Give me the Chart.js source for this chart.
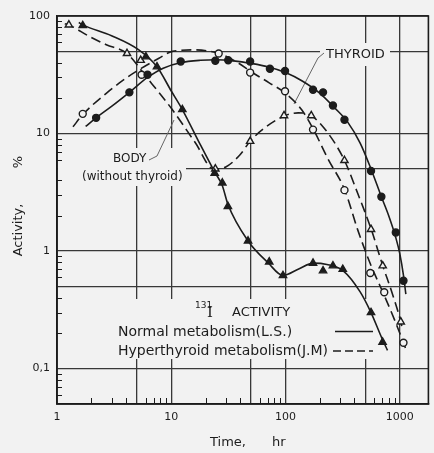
<!DOCTYPE html>
<html><head><meta charset="utf-8">
<script src="https://cdn.jsdelivr.net/npm/chart.js@4/dist/chart.umd.min.js"></script>
<style>html,body{margin:0;padding:0;background:#f2f2f2;}canvas{display:block;}</style>
</head><body>
<canvas id="c" width="434" height="453"></canvas>
<script>
// ---- data ----
// markers: [time hr, activity %]
const thyroidNormalPts = [[2.2,13.6],[4.3,22.4],[6.2,31.6],[12.1,41],[24.3,41.6],[31.5,42],[49,41],[73,35.6],[99,34],[174,23.6],[213,22.4],[260,17.3],[328,13.1],[560,4.8],[690,2.9],[923,1.44],[1077,0.56]];
const thyroidHyperPts = [[1.68,14.7],[5.5,31.6],[26,48],[49,33],[99,22.9],[174,10.8],[328,3.3],[552,0.65],[731,0.447],[1077,0.166]];
const bodyNormalPts = [[1.68,83],[6,45],[7.5,37],[12.5,16],[24,4.6],[28,3.8],[31.3,2.4],[47,1.22],[72,0.81],[95,0.62],[174,0.79],[213,0.68],[260,0.75],[317,0.7],[560,0.3],[707,0.168]];
const bodyHyperPts = [[1.27,84],[4.1,48],[5.4,42],[24.3,5],[49,8.6],[97,14.2],[168,14.2],[328,5.9],[560,1.53],[709,0.75],[1020,0.25]];
// fitted curves as drawn
const thyroidNormalCurve = [[1.78,11.5],[2.2,13.6],[3,17],[4.3,22.4],[6.2,30],[8.5,36],[12,40],[18,42],[25,42.5],[35,41.5],[50,39.5],[70,37],[100,33],[140,28],[200,22],[270,16.5],[350,12.5],[450,8.3],[560,5],[690,2.9],[800,2],[923,1.3],[1000,0.95],[1077,0.62],[1130,0.43]];
const thyroidHyperCurve = [[1.38,11.4],[1.68,14.5],[2.7,22],[4.1,30],[5.5,36],[7.8,43.7],[10.2,50],[16,51.5],[26,48],[38.7,39.8],[49,34],[72,27],[100,22],[138,16],[174,11],[235,6.1],[330,3.3],[430,1.5],[552,0.78],[731,0.42],[900,0.26],[1077,0.166],[1120,0.15]];
const bodyNormalCurve = [[1.55,88],[1.68,84],[3,68],[5.2,51.5],[7.5,37],[10,23],[12.5,16],[18,8],[24,4.7],[28,3.6],[31.3,2.5],[47,1.22],[70,0.8],[95,0.62],[129,0.7],[175,0.79],[230,0.77],[320,0.68],[450,0.45],[560,0.3],[700,0.18],[781,0.143]];
const bodyHyperCurve = [[1.17,86],[1.27,84],[1.92,67],[2.7,57],[4.1,48],[6,30.6],[10.2,16],[16.3,8.3],[23.5,5],[30,5.2],[40,6.6],[49,8.6],[66,11.2],[99,14.2],[129,15],[168,14.2],[235,10.1],[328,5.9],[428,3.1],[560,1.55],[710,0.75],[850,0.45],[1020,0.25],[1060,0.21]];
// axes
const xGridValues = [1,5,10,50,100,500,1000];
const xTickValues = [1,10,100,1000];
const xTickLabels = ['1','10','100','1000'];
const xMinorValues = [2,3,4,6,7,8,9,20,30,40,60,70,80,90,200,300,400,600,700,800,900];
const yGridValues = [0.1,0.5,1,5,10,50,100];
const yTickValues = [0.1,1,10,100];
const yTickLabels = ['0,1','1','10','100'];
const yMinorValues = [0.06,0.07,0.08,0.09,0.2,0.3,0.4,0.6,0.7,0.8,0.9,2,3,4,6,7,8,9,20,30,40,60,70,80,90];

const BG = '#f2f2f2', INK = '#1c1c1c', FONT = "'DejaVu Sans', sans-serif";
const toXY = a => a.map(p => ({x:p[0], y:p[1]}));

function curve(arr, dashed){
  return {data:toXY(arr), showLine:true, pointRadius:0, borderColor:INK, borderWidth:1.6,
    borderDash: dashed ? [10,5] : [], cubicInterpolationMode:'monotone', fill:false};
}
function marks(arr, style, filled){
  return {data:toXY(arr), showLine:false, pointStyle:style, pointRadius: style==='triangle'?4.2:3.5,
    pointBorderWidth:1.4, pointBorderColor:INK, pointBackgroundColor: filled?INK:BG};
}

const annot = {
  id:'annot',
  beforeDatasetsDraw(chart){
    const {ctx, chartArea:a, scales:{x,y}} = chart;
    ctx.save();
    // label backgrounds hiding grid lines
    ctx.fillStyle = BG;
    ctx.fillRect(320,43,70,23);
    ctx.fillRect(a.left+1,148,128,38);
    ctx.fillRect(115,299,262,60);
    // frame
    ctx.strokeStyle = INK; ctx.lineWidth = 1.6;
    ctx.strokeRect(a.left, a.top, a.right-a.left, a.bottom-a.top);
    // minor ticks (inside)
    ctx.lineWidth = 1;
    yMinorValues.forEach(v=>{const py=Math.round(y.getPixelForValue(v))+0.5; ctx.beginPath(); ctx.moveTo(a.left,py); ctx.lineTo(a.left+5,py); ctx.stroke();});
    xMinorValues.forEach(v=>{const px=Math.round(x.getPixelForValue(v))+0.5; ctx.beginPath(); ctx.moveTo(px,a.bottom); ctx.lineTo(px,a.bottom-6); ctx.stroke();});
    // leaders
    ctx.strokeStyle = '#666'; ctx.lineWidth = 1;
    ctx.beginPath(); ctx.moveTo(324,53); ctx.lineTo(318,58); ctx.lineTo(294,104); ctx.stroke();
    ctx.beginPath(); ctx.moveTo(149,160); ctx.lineTo(157,156); ctx.lineTo(174,120); ctx.stroke();
    // texts
    ctx.fillStyle = INK; ctx.textBaseline = 'middle'; ctx.textAlign = 'left';
    ctx.font = '13px '+FONT; ctx.fillText('THYROID', 326, 55);
    ctx.font = '12px '+FONT; ctx.fillText('BODY', 113, 159); ctx.fillText('(without thyroid)', 82, 177);
    ctx.font = '9px '+FONT; ctx.fillText('131', 195, 306);
    ctx.font = "15px 'DejaVu Serif', serif"; ctx.fillText('I', 207, 313);
    ctx.font = '13px '+FONT; ctx.fillText('ACTIVITY', 232, 313);
    ctx.font = '14px '+FONT;
    ctx.fillText('Normal metabolism(L.S.)', 118, 332);
    ctx.fillText('Hyperthyroid metabolism(J.M)', 118, 351);
    ctx.strokeStyle = INK; ctx.lineWidth = 1.6;
    ctx.beginPath(); ctx.moveTo(335,331.5); ctx.lineTo(373,331.5); ctx.stroke();
    ctx.setLineDash([8,4]);
    ctx.beginPath(); ctx.moveTo(333,351); ctx.lineTo(373,351); ctx.stroke();
    ctx.setLineDash([]);
    // axis titles
    ctx.font = '13px '+FONT;
    ctx.fillText('Time,', 210, 443); ctx.fillText('hr', 272, 443);
    ctx.translate(19, 0); ctx.rotate(-Math.PI/2); ctx.textAlign='center';
    ctx.fillText('Activity,', -230, 0); ctx.fillText('%', -162, 0);
    ctx.restore();
  }
};

new Chart(document.getElementById('c'), {
  type:'scatter',
  data:{datasets:[
    marks(thyroidNormalPts,'circle',true),
    marks(thyroidHyperPts,'circle',false),
    marks(bodyNormalPts,'triangle',true),
    marks(bodyHyperPts,'triangle',false),
    curve(thyroidNormalCurve,false),
    curve(thyroidHyperCurve,true),
    curve(bodyNormalCurve,false),
    curve(bodyHyperCurve,true)
  ]},
  options:{
    responsive:false, animation:false, devicePixelRatio:1,
    layout:{padding:{top:16,right:3,left:0,bottom:0}},
    plugins:{legend:{display:false}, tooltip:{enabled:false}},
    scales:{
      x:{type:'logarithmic', min:1, max:1780,
        afterBuildTicks:s=>{s.ticks = xGridValues.map(v=>({value:v}));},
        afterFit:s=>{s.height=49;},
        ticks:{autoSkip:false, maxRotation:0, padding:7, color:INK, font:{family:FONT,size:11},
          callback:v=>{const i=xTickValues.indexOf(v); return i>=0?xTickLabels[i]:'';}},
        grid:{color:'#383838', lineWidth:1.3, drawTicks:false},
        border:{color:INK, width:1.6}},
      y:{type:'logarithmic', min:0.05, max:100,
        afterBuildTicks:s=>{s.ticks = yGridValues.map(v=>({value:v}));},
        afterFit:s=>{s.width=57;},
        ticks:{autoSkip:false, padding:7, color:INK, font:{family:FONT,size:11},
          callback:v=>{const i=yTickValues.indexOf(v); return i>=0?yTickLabels[i]:'';}},
        grid:{color:'#383838', lineWidth:1.3, drawTicks:false},
        border:{color:INK, width:1.6}}
    }
  },
  plugins:[annot]
});
</script>
</body></html>
